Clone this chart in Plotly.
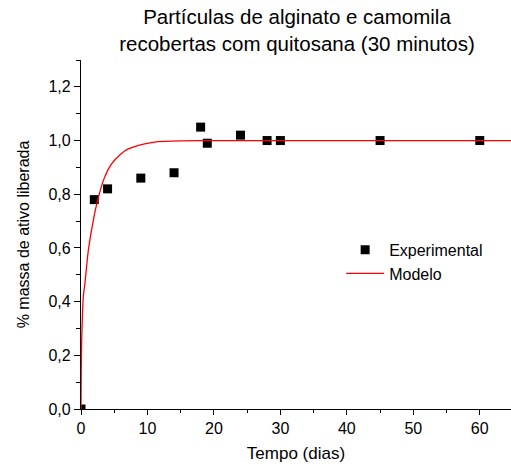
import plotly.graph_objects as go

exp_t = [0, 2, 4, 9, 14, 18, 19, 24, 28, 30, 45, 60]
exp_y = [0.0, 0.78, 0.82, 0.86, 0.88, 1.05, 0.99, 1.02, 1.0, 1.0, 1.0, 1.0]

# Model curve
mod_t = [0, 0.03, 0.1, 0.2, 0.35, 0.6, 1.0, 1.25, 1.85, 2.5, 3.5, 4.6, 6.0, 7.1, 9.6, 11.6, 15, 20, 30, 45, 64.7]
mod_y = [0, 0.12, 0.25, 0.34, 0.42, 0.47, 0.57, 0.616, 0.703, 0.777, 0.86, 0.913, 0.950, 0.969, 0.988, 0.996, 0.999, 1.0, 1.0, 1.0, 1.0]

x_ticks = [0, 10, 20, 30, 40, 50, 60]
y_ticks = [0, 0.2, 0.4, 0.6, 0.8, 1.0, 1.2]
y_ticktext = ["0,0", "0,2", "0,4", "0,6", "0,8", "1,0", "1,2"]

title_text = "Partículas de alginato e camomila<br>recobertas com quitosana (30 minutos)"
x_title = "Tempo (dias)"
y_title = "% massa de ativo liberada"

FONT = "Liberation Sans, Arial, sans-serif"
X_RANGE = [0, 64.7]
Y_RANGE = [0, 1.3]

fig = go.Figure()
fig.add_trace(go.Scatter(
    x=exp_t, y=exp_y, mode="markers", name="Experimental",
    marker=dict(symbol="square", size=9, color="black"),
))
fig.add_trace(go.Scatter(
    x=mod_t, y=mod_y, mode="lines", name="Modelo",
    line=dict(color="red", width=1.3, shape="spline", smoothing=0.6),
))

common = dict(showgrid=False, zeroline=False, tickcolor="black", tickwidth=1.2)

fig.update_layout(
    xaxis=dict(
        range=X_RANGE, tickvals=x_ticks, showline=True, linecolor="black", linewidth=1.3,
        ticks="outside", ticklen=5,
        minor=dict(ticks="outside", ticklen=3, tickwidth=1.2, tickcolor="black", dtick=5),
        tickfont=dict(family=FONT, size=16, color="black"),
        title=dict(text=x_title, font=dict(family=FONT, size=17, color="black"), standoff=10),
        **common,
    ),
    yaxis=dict(
        range=Y_RANGE, tickvals=y_ticks, ticktext=y_ticktext, showline=True,
        linecolor="black", linewidth=1.3, ticks="outside", ticklen=6,
        minor=dict(ticks="outside", ticklen=3.5, tickwidth=1.2, tickcolor="black", dtick=0.1),
        tickfont=dict(family=FONT, size=16, color="black"),
        title=dict(text=y_title, font=dict(family=FONT, size=16, color="black"), standoff=14),
        **common,
    ),
    xaxis2=dict(
        range=X_RANGE, overlaying="x", side="top", anchor="y", tickvals=x_ticks,
        showticklabels=False, showline=True, linecolor="black", linewidth=1.3,
        ticks="inside", ticklen=5,
        minor=dict(ticks="inside", ticklen=3, tickwidth=1.2, tickcolor="black", dtick=5),
        **common,
    ),
    yaxis2=dict(
        range=Y_RANGE, overlaying="y", side="right", anchor="x", tickvals=y_ticks,
        showticklabels=False, showline=True, linecolor="black", linewidth=1.3,
        ticks="inside", ticklen=6,
        minor=dict(ticks="inside", ticklen=3.5, tickwidth=1.2, tickcolor="black", dtick=0.1),
        **common,
    ),
)

fig.update_layout(
    width=511, height=467,
    margin=dict(l=81, r=0, t=60, b=58),
    paper_bgcolor="white", plot_bgcolor="white",
    title=dict(text=title_text, font=dict(family=FONT, size=20.5, color="black"),
               x=297 / 511, xanchor="center", xref="container",
               y=1 - 24 / 467, yanchor="top", yref="container"),
    showlegend=True,
    legend=dict(x=0.605, y=0.505, xanchor="left", yanchor="top",
                bgcolor="rgba(0,0,0,0)", font=dict(family=FONT, size=16, color="black"),
                itemwidth=38, tracegroupgap=0),
    font=dict(family=FONT),
)

fig.write_html("out.html", config={"displayModeBar": False},
               post_script="document.body.style.margin='0';")
